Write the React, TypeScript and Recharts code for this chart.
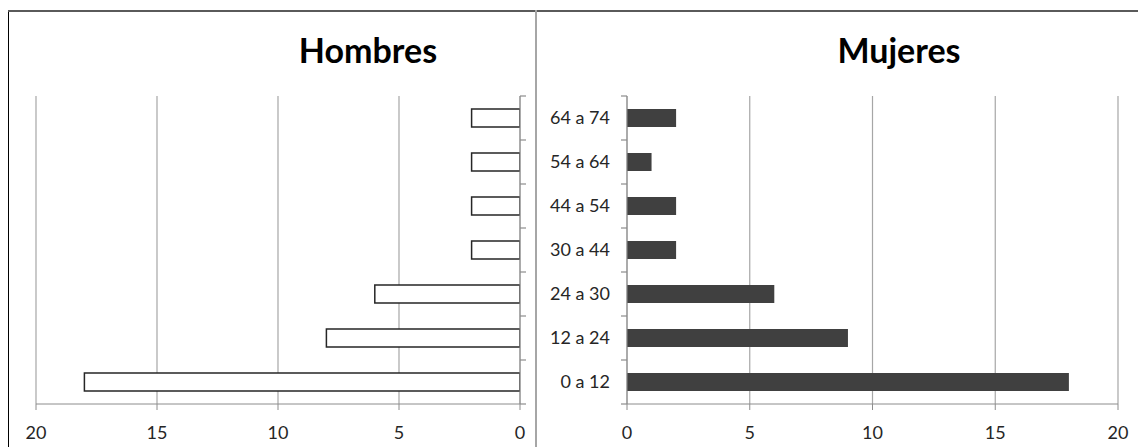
import React from 'react';
import { BarChart, Bar, XAxis, YAxis, CartesianGrid } from 'recharts';

const categories = ['64 a 74', '54 a 64', '44 a 54', '30 a 44', '24 a 30', '12 a 24', '0 a 12'];
const hombres = [2, 2, 2, 2, 6, 8, 18];
const mujeres = [2, 1, 2, 2, 6, 9, 18];
const valueTicks = [0, 5, 10, 15, 20];

const data = categories.map((c, i) => ({ age: c, hombres: hombres[i], mujeres: mujeres[i] }));

const H = 447;
const PLOT_TOP = 96;
const X_AXIS_H = 31;
const MARGIN_BOTTOM = 12;
const PLOT_BOTTOM = H - MARGIN_BOTTOM - X_AXIS_H;
const BAND_HALF = (PLOT_BOTTOM - PLOT_TOP) / categories.length / 2;
const TICK = 6;
const LEFT_LABEL_GAP = 11;
const AXIS_COLOR = '#8c8c8c';
const GRID_COLOR = '#a6a6a6';
const TEXT_COLOR = '#262626';
const FONT = 'Lato, "Open Sans", sans-serif';

const makeCatTick = (side: 'left' | 'right', margin: number, showLabel: boolean) => (props: any) => {
  const { x, y, payload, index } = props;
  const axisX = side === 'left' ? x + TICK + margin : x - TICK - margin;
  const outerX = side === 'left' ? axisX - TICK : axisX + TICK;
  const last = index === categories.length - 1;
  return (
    <g>
      <line x1={outerX} x2={axisX} y1={y - BAND_HALF} y2={y - BAND_HALF} stroke={AXIS_COLOR} strokeWidth={1.2} />
      {last && (
        <line x1={outerX} x2={axisX} y1={y + BAND_HALF} y2={y + BAND_HALF} stroke={AXIS_COLOR} strokeWidth={1.2} />
      )}
      {showLabel && (
        <text x={x} y={y} dy="0.36em" textAnchor="end" fill={TEXT_COLOR} fontSize={18} fontFamily={FONT}>
          {payload.value}
        </text>
      )}
    </g>
  );
};

const xTick = { fill: TEXT_COLOR, fontSize: 18, fontFamily: FONT };

export default function App() {
  return (
    <div style={{ position: 'fixed', left: 0, top: 0, width: 1138, height: H, background: '#fff', fontFamily: FONT, overflow: 'hidden' }}>
      <div style={{ position: 'absolute', left: 8, top: 10, width: 1, height: H - 10, background: '#000' }} />
      <div style={{ position: 'absolute', left: 8, top: 10, width: 1130, height: 2, background: '#5a5a5a' }} />
      <div style={{ position: 'absolute', left: 535, top: 10, width: 2, height: H - 10, background: '#a6a6a6' }} />
      <div style={{ position: 'absolute', left: 368, top: 26, transform: 'translateX(-50%)', fontSize: 34, fontWeight: 700, color: '#000', whiteSpace: 'nowrap', lineHeight: '48px' }}>Hombres</div>
      <div style={{ position: 'absolute', left: 899, top: 26, transform: 'translateX(-50%)', fontSize: 34, fontWeight: 700, color: '#000', whiteSpace: 'nowrap', lineHeight: '48px' }}>Mujeres</div>

      <div style={{ position: 'absolute', left: 0, top: 0 }}>
        <BarChart width={535} height={H} data={data} layout="vertical" margin={{ top: PLOT_TOP, right: 0, bottom: MARGIN_BOTTOM, left: 36 }} barSize={18}>
          <CartesianGrid horizontal={false} stroke={GRID_COLOR} strokeWidth={1.2} />
          <XAxis type="number" domain={[0, 20]} ticks={valueTicks} reversed height={X_AXIS_H} tickSize={TICK} tickMargin={16} tick={xTick} stroke={AXIS_COLOR} allowDataOverflow interval={0} />
          <YAxis type="category" dataKey="age" orientation="right" width={15} tickLine={false} tickSize={TICK} tickMargin={0} tick={makeCatTick('right', 0, false)} stroke={AXIS_COLOR} interval={0} />
          <Bar dataKey="hombres" fill="#ffffff" stroke="#262626" strokeWidth={1.5} isAnimationActive={false} />
        </BarChart>
      </div>

      <div style={{ position: 'absolute', left: 537, top: 0 }}>
        <BarChart width={601} height={H} data={data} layout="vertical" margin={{ top: PLOT_TOP, right: 20, bottom: MARGIN_BOTTOM, left: 0 }} barSize={18}>
          <CartesianGrid horizontal={false} stroke={GRID_COLOR} strokeWidth={1.2} />
          <XAxis type="number" domain={[0, 20]} ticks={valueTicks} height={X_AXIS_H} tickSize={TICK} tickMargin={16} tick={xTick} stroke={AXIS_COLOR} allowDataOverflow interval={0} />
          <YAxis type="category" dataKey="age" orientation="left" width={90} tickLine={false} tickSize={TICK} tickMargin={LEFT_LABEL_GAP} tick={makeCatTick('left', LEFT_LABEL_GAP, true)} stroke={AXIS_COLOR} interval={0} />
          <Bar dataKey="mujeres" fill="#404040" isAnimationActive={false} />
        </BarChart>
      </div>
    </div>
  );
}
